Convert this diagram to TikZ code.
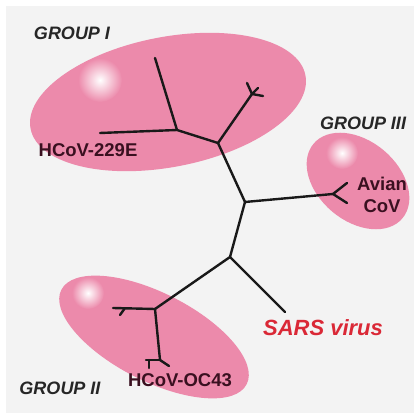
\documentclass[tikz,border=0pt]{standalone}
\usepackage{fontspec}
\setmainfont{Liberation Sans}
\usetikzlibrary{positioning}
\definecolor{blobpink}{RGB}{236,138,171}
\definecolor{bggray}{RGB}{243,243,243}
\definecolor{sarsred}{RGB}{218,40,54}
\definecolor{strainmaroon}{RGB}{58,16,32}
\tikzset{
  label_text/.style = {inner sep=0pt, align=center,
    font=\bfseries\fontsize{18.5}{22}\selectfont},
  group_label/.style = {label_text, text=black!85,
    font=\bfseries\itshape\fontsize{18}{22}\selectfont},% nom du groupe
  strain_label/.style = {label_text, text=strainmaroon},% souche
  sars_label/.style = {label_text, text=sarsred,
    font=\bfseries\itshape\fontsize{22}{24}\selectfont},% SARS
  blob/.style = {fill=blobpink},% zone du groupe
  branch/.style = {draw=black!90, line width=2.4pt, line join=round,
    line cap=round}% branche de l'arbre
}
\begin{document}
\begin{tikzpicture}[x=1pt, y=-1pt]
  \useasboundingbox (0,0) rectangle (420,419);
  \fill[white] (0,0) rectangle (420,419);
  \fill[bggray] (6,6) rectangle (414,413);

  % zones
  \fill[blob, rotate around={11:(168,102)}] (168,102) ellipse [x radius=140, y radius=65];
  \fill[blob, rotate around={-40:(358,181)}] (358,181) ellipse [x radius=58, y radius=40];
  \fill[blob, rotate around={-27:(154,337)}] (154,337) ellipse [x radius=104, y radius=44];
  \shade[inner color=white, outer color=blobpink] (100,80) circle (22);
  \shade[inner color=white, outer color=blobpink] (342,153) circle (16);
  \shade[inner color=white, outer color=blobpink] (88,293) circle (16);

  % noeuds de l'arbre
  \coordinate (n1) at (177,130);
  \coordinate (n2) at (218,143);
  \coordinate (n3) at (245,202);
  \coordinate (n4) at (230,257);
  \coordinate (n5) at (155,309);
  \coordinate (top_leaf) at (155,58);
  \coordinate (leaf_229e) at (100,133);
  \coordinate (fork_one) at (252,94);
  \coordinate (fork_avian) at (333,194);
  \coordinate (leaf_sars) at (285,312);
  \coordinate (fork_left) at (125,308);
  \coordinate (leaf_left) at (113,308);
  \coordinate (fork_oc43) at (160,360);

  % branches
  \draw[branch] (top_leaf) -- (n1) -- (n2) -- (n3) -- (n4) -- (n5);
  \draw[branch] (leaf_229e) -- (n1);
  \draw[branch] (n2) -- (fork_one);
  \draw[branch] (fork_one) -- ++(-5,-11);
  \draw[branch] (fork_one) -- ++(11,2);
  \draw[branch] (fork_one) -- ++(6,-6);
  \draw[branch] (n3) -- (fork_avian);
  \draw[branch] (fork_avian) -- ++(14,-11);
  \draw[branch] (fork_avian) -- ++(14,9);
  \draw[branch] (n4) -- (leaf_sars);
  \draw[branch] (n5) -- (leaf_left);
  \draw[branch] (fork_left) -- ++(-5,7);
  \draw[branch] (n5) -- (fork_oc43);
  \draw[branch] (fork_oc43) -- ++(-14,0) coordinate (bar_end);
  \draw[branch] (bar_end) ++(3,0) -- ++(0,8);
  \draw[branch] (fork_oc43) -- ++(9,6);

  % textes
  \node[group_label] (group_one) at (72,33) {GROUP I};
  \node[strain_label] (hcov_229e) at (88,150) {HCoV-229E};
  \node[group_label] (group_three) at (363,123) {GROUP III};
  \node[strain_label] (avian) at (382,195) {Avian\\CoV};
  \node[sars_label] (sars) at (323,328) {SARS virus};
  \node[group_label] (group_two) at (60,388) {GROUP II};
  \node[strain_label] (hcov_oc43) at (180,380) {HCoV-OC43};
\end{tikzpicture}
\end{document}
